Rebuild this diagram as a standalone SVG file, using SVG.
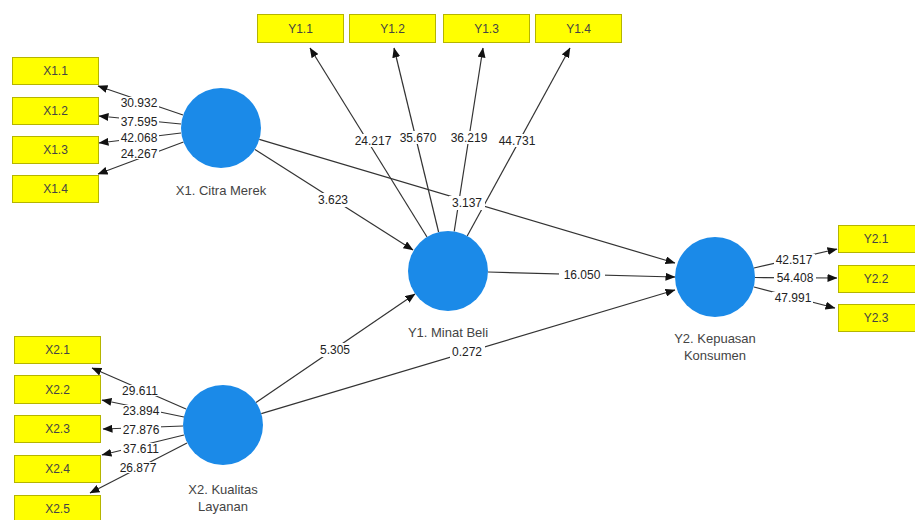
<svg xmlns="http://www.w3.org/2000/svg" width="915" height="520" viewBox="0 0 915 520">
<defs>
<marker id="arr" markerUnits="userSpaceOnUse" markerWidth="10" markerHeight="8" refX="9.5" refY="4" orient="auto">
<path d="M0,0 L10,4 L0,8 z" fill="#111"/>
</marker>
<style>
.ln{stroke:#333;stroke-width:1.2;fill:none;marker-end:url(#arr)}
.bx{fill:#ffff00;stroke:#b5b500;stroke-width:1}
.bt{font-family:"Liberation Sans",Arial,sans-serif;font-size:12px;fill:#444;text-anchor:middle;dominant-baseline:central}
.cir{fill:#1b8ae8}
.nt{font-family:"Liberation Sans",Arial,sans-serif;font-size:13px;fill:#444;text-anchor:middle;dominant-baseline:central}
.lb{font-family:"Liberation Sans",Arial,sans-serif;font-size:12px;fill:#222;text-anchor:middle;dominant-baseline:central}
.bg{fill:#fff}
</style>
</defs>
<rect width="915" height="520" fill="#fff"/>

<g id="connectors">
<line class="ln" x1="183" y1="115" x2="98" y2="86"/>
<line class="ln" x1="181" y1="124" x2="99" y2="116"/>
<line class="ln" x1="181" y1="133" x2="99" y2="143"/>
<line class="ln" x1="183.5" y1="142" x2="98" y2="174"/>
<line class="ln" x1="186" y1="409" x2="92" y2="368"/>
<line class="ln" x1="184" y1="417" x2="102" y2="400"/>
<line class="ln" x1="183" y1="426" x2="103" y2="429"/>
<line class="ln" x1="184" y1="435" x2="102" y2="455"/>
<line class="ln" x1="187" y1="443" x2="90" y2="493"/>
<line class="ln" x1="427" y1="237" x2="310" y2="48"/>
<line class="ln" x1="438.6" y1="232" x2="394" y2="48"/>
<line class="ln" x1="454.2" y1="231.5" x2="483" y2="48"/>
<line class="ln" x1="467.2" y1="236" x2="570" y2="48"/>
<line class="ln" x1="754" y1="268" x2="837" y2="249"/>
<line class="ln" x1="755" y1="277.5" x2="837" y2="278"/>
<line class="ln" x1="754" y1="287" x2="835" y2="308"/>
<line class="ln" x1="255" y1="149.5" x2="413" y2="250"/>
<line class="ln" x1="259.3" y1="139.4" x2="675" y2="263"/>
<line class="ln" x1="488" y1="272" x2="675" y2="277"/>
<line class="ln" x1="256" y1="402.4" x2="415" y2="294"/>
<line class="ln" x1="261.3" y1="413.6" x2="675" y2="290"/>
<g id="connector-labels">
<rect class="bg" x="119" y="97" width="40" height="12"/>
<rect class="bg" x="119" y="116" width="40" height="11"/>
<rect class="bg" x="119" y="132" width="40" height="11"/>
<rect class="bg" x="119" y="148" width="40" height="11"/>
<rect class="bg" x="121" y="385" width="38" height="11"/>
<rect class="bg" x="121" y="405" width="40" height="11"/>
<rect class="bg" x="121" y="424" width="40" height="11"/>
<rect class="bg" x="121" y="443" width="40" height="11"/>
<rect class="bg" x="118" y="462" width="40" height="11"/>
<rect class="bg" x="352" y="134" width="42" height="13"/>
<rect class="bg" x="397" y="131" width="42" height="13"/>
<rect class="bg" x="448" y="131" width="42" height="13"/>
<rect class="bg" x="496" y="134" width="42" height="13"/>
<rect class="bg" x="774" y="254" width="41" height="12"/>
<rect class="bg" x="774" y="272" width="42" height="12"/>
<rect class="bg" x="772" y="292" width="41" height="12"/>
<rect class="bg" x="316" y="193" width="35" height="14"/>
<rect class="bg" x="449" y="196" width="36" height="14"/>
<rect class="bg" x="559" y="268" width="46" height="14"/>
<rect class="bg" x="318" y="343" width="35" height="14"/>
<rect class="bg" x="450" y="345" width="35" height="14"/>
<text class="lb" x="139" y="103">30.932</text>
<text class="lb" x="139" y="121.5">37.595</text>
<text class="lb" x="139" y="137.5">42.068</text>
<text class="lb" x="139" y="153.5">24.267</text>
<text class="lb" x="140" y="390.5">29.611</text>
<text class="lb" x="141" y="410.5">23.894</text>
<text class="lb" x="141" y="429.5">27.876</text>
<text class="lb" x="141" y="448.5">37.611</text>
<text class="lb" x="138" y="467.5">26.877</text>
<text class="lb" x="373" y="140.5">24.217</text>
<text class="lb" x="418" y="137.5">35.670</text>
<text class="lb" x="469" y="137.5">36.219</text>
<text class="lb" x="517" y="140.5">44.731</text>
<text class="lb" x="794" y="260">42.517</text>
<text class="lb" x="795" y="278">54.408</text>
<text class="lb" x="793" y="298">47.991</text>
<text class="lb" x="333" y="200">3.623</text>
<text class="lb" x="467" y="203">3.137</text>
<text class="lb" x="582" y="275">16.050</text>
<text class="lb" x="335" y="350">5.305</text>
<text class="lb" x="467" y="352">0.272</text>
</g>
</g>

<g id="X1.1"><rect class="bx" x="12.5" y="57.5" width="86" height="27"/><text class="bt" x="55.5" y="71">X1.1</text></g>
<g id="X1.2"><rect class="bx" x="12.5" y="97.5" width="86" height="27"/><text class="bt" x="55.5" y="111">X1.2</text></g>
<g id="X1.3"><rect class="bx" x="12.5" y="136.5" width="86" height="27"/><text class="bt" x="55.5" y="150">X1.3</text></g>
<g id="X1.4"><rect class="bx" x="12.5" y="175.5" width="86" height="27"/><text class="bt" x="55.5" y="189">X1.4</text></g>

<g id="X2.1"><rect class="bx" x="14.5" y="336.5" width="86" height="27"/><text class="bt" x="57.5" y="350">X2.1</text></g>
<g id="X2.2"><rect class="bx" x="14.5" y="375.5" width="86" height="28"/><text class="bt" x="57.5" y="389.5">X2.2</text></g>
<g id="X2.3"><rect class="bx" x="14.5" y="415.5" width="86" height="27"/><text class="bt" x="57.5" y="429">X2.3</text></g>
<g id="X2.4"><rect class="bx" x="14.5" y="455.5" width="86" height="27"/><text class="bt" x="57.5" y="469">X2.4</text></g>
<g id="X2.5"><rect class="bx" x="14.5" y="495.5" width="86" height="27"/><text class="bt" x="57.5" y="509">X2.5</text></g>

<g id="Y1.1"><rect class="bx" x="257.5" y="14.5" width="86" height="28"/><text class="bt" x="300.5" y="28.5">Y1.1</text></g>
<g id="Y1.2"><rect class="bx" x="349.5" y="14.5" width="86" height="28"/><text class="bt" x="392.5" y="28.5">Y1.2</text></g>
<g id="Y1.3"><rect class="bx" x="443.5" y="14.5" width="86" height="28"/><text class="bt" x="486.5" y="28.5">Y1.3</text></g>
<g id="Y1.4"><rect class="bx" x="535.5" y="14.5" width="86" height="28"/><text class="bt" x="578.5" y="28.5">Y1.4</text></g>

<g id="Y2.1"><rect class="bx" x="838.5" y="225.5" width="86" height="27"/><text class="bt" x="876" y="239">Y2.1</text></g>
<g id="Y2.2"><rect class="bx" x="838.5" y="265.5" width="86" height="27"/><text class="bt" x="876" y="279">Y2.2</text></g>
<g id="Y2.3"><rect class="bx" x="838.5" y="304.5" width="86" height="27"/><text class="bt" x="876" y="318">Y2.3</text></g>

<g id="X1"><circle class="cir" cx="221" cy="128" r="40"/><text class="nt" x="221" y="190">X1. Citra Merek</text></g>
<g id="X2"><circle class="cir" cx="223" cy="425" r="40"/><text class="nt" x="223" y="489">X2. Kualitas</text><text class="nt" x="223" y="506">Layanan</text></g>
<g id="Y1"><circle class="cir" cx="448" cy="271" r="40"/><text class="nt" x="448" y="332">Y1. Minat Beli</text></g>
<g id="Y2"><circle class="cir" cx="715" cy="277" r="40"/><text class="nt" x="715" y="338">Y2. Kepuasan</text><text class="nt" x="715" y="355">Konsumen</text></g>
</svg>
